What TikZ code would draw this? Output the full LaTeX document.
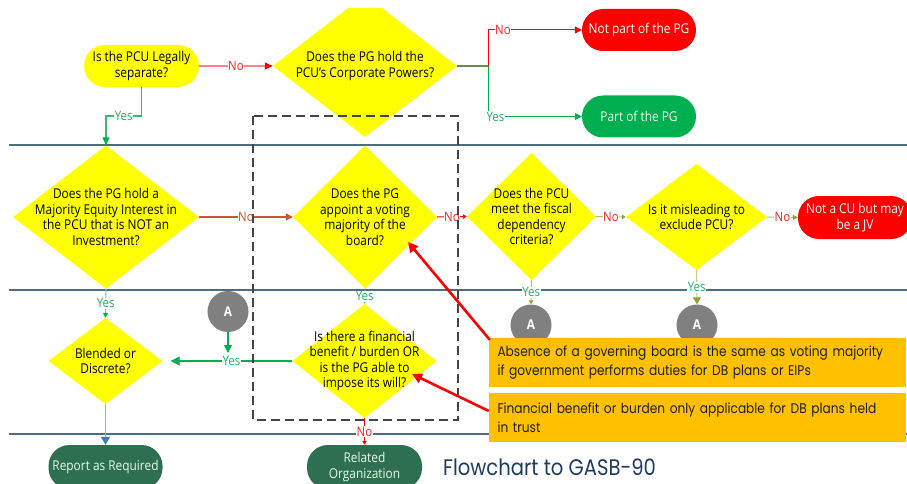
\documentclass[tikz,border=0pt]{standalone}
\usepackage{fontspec}
\setmainfont{Open Sans}[FakeStretch=0.88]
\newfontfamily\gothicfont{Poppins}[FakeStretch=0.87]
\usetikzlibrary{arrows.meta,calc}

\definecolor{diay}{HTML}{FFFF00}
\definecolor{lanec}{HTML}{4F6B7E}
\definecolor{redterm}{HTML}{FF0000}
\definecolor{greenterm}{HTML}{00B050}
\definecolor{darkg}{HTML}{2E6F52}
\definecolor{grayA}{HTML}{808080}
\definecolor{notec}{HTML}{FFC000}
\definecolor{notetext}{HTML}{1E1E1E}
\definecolor{navy}{HTML}{1F3A5F}
\definecolor{salmon}{HTML}{FF8585}
\definecolor{noc}{HTML}{FF2020}
\definecolor{yesline}{HTML}{33BB70}
\definecolor{yestxt}{HTML}{20B060}
\definecolor{olivec}{HTML}{6E8A4A}
\definecolor{olivel}{HTML}{A9C46A}
\definecolor{olivetip}{HTML}{8EA32E}
\definecolor{brick}{HTML}{D0552E}
\definecolor{steel}{HTML}{8DB4CC}
\definecolor{steeltip}{HTML}{3F7FAA}
\definecolor{dashc}{HTML}{444444}

\newcommand\dgfont{\fontsize{13.5}{15.5}\selectfont}
\newcommand\lblfont{\fontsize{13}{14}\selectfont}
\newcommand\notefont{\gothicfont\fontsize{14}{19}\selectfont}
\newcommand\titlefont{\gothicfont\fontsize{22.5}{26}\selectfont}

\begin{document}
\begin{tikzpicture}[x=1pt,y=-1pt,
  lane/.style={draw=lanec, line width=1.6pt},
  dia/.style={rectangle, inner sep=0pt, align=center, font=\dgfont, text=black,
    path picture={\fill[diay] (path picture bounding box.north) -- (path picture bounding box.east)
      -- (path picture bounding box.south) -- (path picture bounding box.west) -- cycle;}},
  term/.style={rectangle, rounded corners=21pt, inner sep=0pt, minimum width=114pt,
    minimum height=42pt, align=center, font=\dgfont},
  conA/.style={circle, fill=grayA, minimum size=41pt, inner sep=0pt, text=white,
    font=\bfseries\dgfont},
  note/.style={rectangle, fill=notec, minimum width=417pt, minimum height=49pt,
    inner xsep=8.5pt, inner ysep=0pt, text width=400pt, align=left, font=\notefont, text=notetext},
  lbl/.style={fill=white, inner sep=0.6pt, font=\lblfont},
  tip/.style={-{Triangle[length=7pt,width=7pt]}},
  smalltip/.style={-{Triangle[length=4pt,width=4.5pt]}},
]
\useasboundingbox (0,0) rectangle (907,484);
\clip (0,0) rectangle (907,484);

% swim-lane separators
\coordinate (l1a) at (9,145);  \coordinate (l1b) at (907,145);
\coordinate (l2a) at (9,290);  \coordinate (l2b) at (907,290);
\coordinate (l3a) at (9,434);  \coordinate (l3b) at (907,434);
\draw[lane] (l1a) -- (l1b);
\draw[lane] (l2a) -- (l2b);
\draw[lane] (l3a) -- (l3b);

% top row
\node[term, fill=diay, text=black, minimum width=115pt] (legal) at (141.5,66) {Is the PCU Legally\\separate?};
\begin{scope}
  \clip (0,9) rectangle (907,484);
  \node[dia, minimum width=184pt, minimum height=142pt] (powers) at (365,66)
    {Does the PG hold the\\PCU's Corporate Powers?};
\end{scope}
\node[term, fill=redterm, text=white] (notpart) at (639,30) {Not part of the PG};
\node[term, fill=greenterm, text=white!92!green] (part) at (639,116.5) {Part of the PG};

% middle row
\node[dia, minimum width=186pt, minimum height=143pt] (majority) at (106,217)
  {Does the PG hold a\\Majority Equity Interest in\\the PCU that is NOT an\\Investment?};
\node[dia, minimum width=144pt, minimum height=143pt] (appoint) at (365,217)
  {Does the PG\\appoint a voting\\majority of the\\board?};
\node[dia, minimum width=129pt, minimum height=127pt] (fiscal) at (531.5,216.5)
  {Does the PCU\\meet the fiscal\\dependency\\criteria?};
\node[dia, minimum width=141pt, minimum height=106pt] (mislead) at (696.5,217)
  {Is it misleading to\\exclude PCU?};
\node[term, fill=redterm, text=white, minimum height=43pt] (notcu) at (855,217.5)
  {Not a CU but may\\be a JV};

% off-page connectors
\node[conA] (A1) at (228,311.5) {A};
\node[conA] (A2) at (531,325) {A};
\node[conA] (A3) at (697,325) {A};

% bottom row
\node[dia, minimum width=114pt, minimum height=86pt] (blended) at (105.5,361)
  {Blended or\\Discrete?};
\node[dia, minimum width=144pt, minimum height=114pt] (financial) at (364.5,361)
  {Is there a financial\\benefit / burden OR\\is the PG able to\\impose its will?};
\node[term, fill=darkg, text=white!90!green, minimum height=44pt] (report) at (105.5,467)
  {Report as Required};
\node[term, fill=darkg, text=white!90!green, minimum width=115pt, minimum height=44pt] (related) at (364.5,467)
  {Related\\Organization};
\node[font=\titlefont, text=navy, anchor=west, inner sep=0pt] (title) at (443,467) {Flowchart to GASB-90};

% connectors, top row
\draw[salmon, line width=1.2pt, -{Triangle[length=8pt,width=7pt,color=red]}]
  (legal.east) -- node[lbl, text=noc] {No} (powers.west);
\coordinate (j1) at (106,116);
\draw[yesline, line width=1.1pt, -{Triangle[length=8pt,width=7pt,color=greenterm]}]
  (legal.south) |- node[lbl, pos=0.75, text=yestxt] {Yes} (j1) -- (majority.north);
\coordinate (j2) at (488,66);
\draw[olivec, line width=1.8pt] (powers.east) -- (j2);
\draw[redterm, line width=1pt, tip] (j2) |- node[lbl, pos=0.58, text=noc] {No} (notpart.west);
\draw[greenterm, line width=1pt, tip] (j2) |- node[lbl, pos=0.54, text=yestxt] {Yes} (part.west);

% connectors, middle row
\draw[brick, line width=1.2pt, tip] (majority.east) -- node[lbl, text=brick] {No} (appoint.west);
\draw[redterm, line width=1pt, smalltip] (appoint.east) -- node[lbl, text=noc] {No} (fiscal.west);
\draw[olivel, line width=1pt, -{Triangle[length=4pt,width=4.5pt,color=olivetip]}]
  (fiscal.east) -- node[lbl, text=noc] {No} (mislead.west);
\draw[olivel, line width=1pt, -{Triangle[length=5pt,width=5pt,color=olivetip]}]
  (mislead.east) -- node[lbl, text=noc] {No} (notcu.west);
\draw[olivel, line width=1pt, -{Triangle[length=4pt,width=4.5pt,color=olivetip]}]
  (fiscal.south) -- node[lbl, text=yestxt] {Yes} (A2.north);
\draw[olivel!80, line width=1.2pt, -{Triangle[length=7pt,width=8pt,color=olivetip]}]
  (mislead.south) -- node[lbl, text=yestxt] {Yes} (A3.north);

% connectors, bottom row
\draw[yesline!70, line width=1.1pt, -{Triangle[length=5pt,width=5pt,color=greenterm]}]
  (majority.south) -- node[lbl, text=yestxt] {Yes} (blended.north);
\draw[yesline, line width=1pt, smalltip]
  (appoint.south) -- node[lbl, text=yestxt] {Yes} (financial.north);
\draw[greenterm, line width=1.1pt, -{Triangle[length=9pt,width=9pt]}]
  (financial.west) -- node[lbl, text=yestxt] {Yes} ([xshift=8pt]blended.east);
\coordinate (jA) at (228,353);
\draw[greenterm, line width=1.1pt, -{Triangle[length=8pt,width=8pt]}] (A1.south) -- (jA);
\draw[steel, line width=1.4pt, -{Triangle[length=8pt,width=9pt,color=steeltip]}]
  (blended.south) -- (report.north);
\draw[redterm, line width=1pt, smalltip] (financial.south) -- node[lbl, text=noc] {No} (related.north);

% scope of the voting-majority test
\coordinate (b1) at (253,116); \coordinate (b2) at (458,420);
\draw[dashc, line width=2.6pt, dash pattern=on 9pt off 5pt] (b1) rectangle (b2);

% explanatory notes
\coordinate (p1) at (408,242);
\coordinate (p2) at (412,374);
\node[note] (note1) at (697.5,362.5)
  {Absence of a governing board is the same as voting majority\\if government performs duties for DB plans or EIPs};
\node[note] (note2) at (697.5,417.5)
  {Financial benefit or burden only applicable for DB plans held\\in trust};
\draw[redterm, line width=2.6pt, -{Triangle[length=10pt,width=10pt]}]
  ([shift={(1,2)}]note1.north west) -- (p1);
\draw[redterm, line width=2.6pt, -{Triangle[length=10pt,width=10pt]}]
  ([yshift=6.5pt]note2.west) -- (p2);
\end{tikzpicture}
\end{document}
